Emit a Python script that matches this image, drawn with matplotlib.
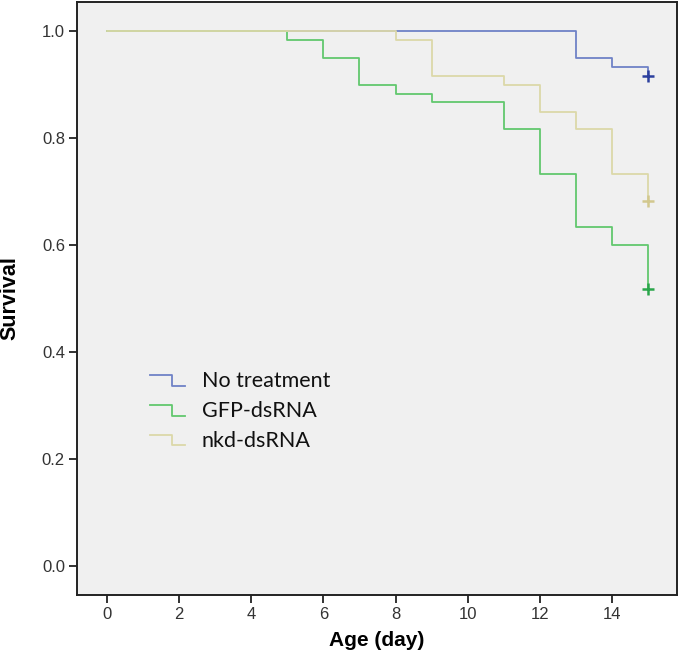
import matplotlib
matplotlib.use("Agg")
import matplotlib.pyplot as plt
from matplotlib.lines import Line2D
from matplotlib.legend_handler import HandlerBase

# ---------- data (Kaplan-Meier steps)
days = [0, 1, 2, 3, 4, 5, 6, 7, 8, 9, 10, 11, 12, 13, 14, 15]
no_treatment = [1.0, 1.0, 1.0, 1.0, 1.0, 1.0, 1.0, 1.0, 1.0, 1.0, 1.0, 1.0, 1.0, 0.95, 0.933, 0.917]
gfp_dsrna = [1.0, 1.0, 1.0, 1.0, 1.0, 0.983, 0.95, 0.90, 0.883, 0.867, 0.867, 0.817, 0.733, 0.633, 0.60, 0.517]
nkd_dsrna = [1.0, 1.0, 1.0, 1.0, 1.0, 1.0, 1.0, 1.0, 0.983, 0.917, 0.917, 0.90, 0.85, 0.817, 0.733, 0.683]

labels = ["No treatment", "GFP-dsRNA", "nkd-dsRNA"]
line_colors = ["#6f82c6", "#62c86e", "#dcd8a8"]
mark_colors = ["#2b3f9e", "#2aa64a", "#d2c88e"]

x_ticks = [0, 2, 4, 6, 8, 10, 12, 14]
y_ticks = [0.0, 0.2, 0.4, 0.6, 0.8, 1.0]


class StepHandler(HandlerBase):
    ''' draws the little step symbol SPSS uses in its legend '''
    def create_artists(self, legend, orig_handle, xdescent, ydescent,
                       width, height, fontsize, trans):
        w, h = width, height
        xs = [0, 0.62 * w, 0.62 * w, w]
        ys = [0.8 * h, 0.8 * h, 0.1 * h, 0.1 * h]
        ln = Line2D(xs, ys, color=orig_handle.get_color(), lw=1.3)
        ln.set_transform(trans)
        return [ln]


fig = plt.figure(figsize=(6.8, 6.61), dpi=100)
fig.patch.set_facecolor("white")
ax = fig.add_axes([0.1128, 0.0998, 0.8825, 0.8972])
ax.set_facecolor("#f0f0f0")

series = [no_treatment, nkd_dsrna, gfp_dsrna]
order = [0, 2, 1]
handles = [None, None, None]
for s, i in zip(series, order):
    ln, = ax.step(days, s, where="post", color=line_colors[i], lw=1.3, zorder=2 + i)
    # censored at end of study
    ax.plot(days[-1], s[-1], marker="+", ms=9, mew=1.8, color=mark_colors[i], zorder=5)
    handles[i] = ln

ax.set_xlim(-0.84, 15.8)
ax.set_ylim(-0.055, 1.055)
ax.set_xticks(x_ticks)
ax.set_yticks(y_ticks)
ax.set_yticklabels(["%.1f" % v for v in y_ticks])

for sp in ax.spines.values():
    sp.set_linewidth(1.4)
    sp.set_color("#222222")
ax.tick_params(direction="out", length=5.5, width=1.3, color="#222222",
               labelsize=12, labelcolor="#333333", pad=3)
for t in ax.get_xticklabels() + ax.get_yticklabels():
    t.set_family(["Liberation Sans", "DejaVu Sans"])

ax.set_xlabel("Age (day)", fontsize=15, fontweight="bold",
              family=["Liberation Sans Narrow", "Liberation Sans"])
ax.set_ylabel("Survival", fontsize=15.5, fontweight="bold",
              family=["Liberation Sans Narrow", "Liberation Sans"])
ax.xaxis.set_label_coords(0.5, -0.06)
ax.yaxis.set_label_coords(-0.094, 0.5)

leg = ax.legend(handles, labels, loc="center left", bbox_to_anchor=(0.122, 0.31),
                frameon=False, borderpad=0, borderaxespad=0,
                handler_map={Line2D: StepHandler()},
                handlelength=1.65, handletextpad=0.75, labelspacing=0.45,
                prop={"family": ["Lato", "DejaVu Sans"], "size": 15.5})
for t in leg.get_texts():
    t.set_color("#111111")

fig.savefig("out.png", dpi=100)
